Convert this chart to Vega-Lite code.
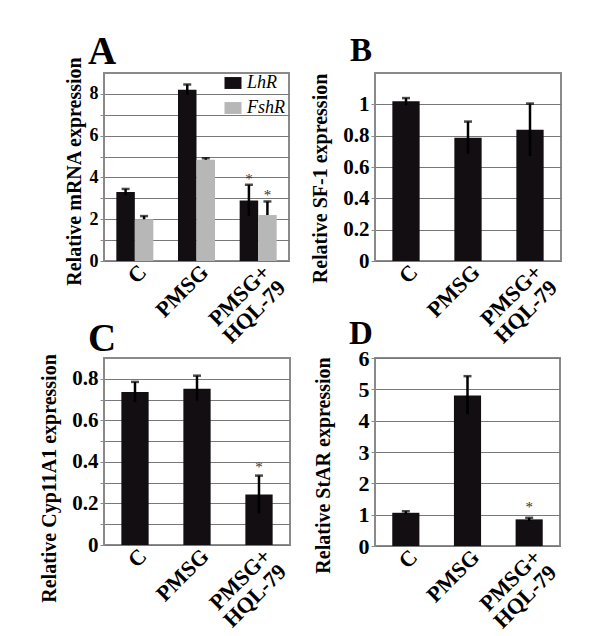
{
  "$schema": "https://vega.github.io/schema/vega-lite/v6.json",
  "background": "white",
  "padding": {"left": 38, "top": 32, "right": 5, "bottom": 5},
  "columns": 2,
  "bounds": "flush",
  "spacing": {"row": 97, "column": 85},
  "resolve": {"legend": {"color": "independent"}},
  "config": {
    "font": "Liberation Serif",
    "view": {"stroke": "#8a8a8a", "strokeWidth": 2},
    "axis": {
      "labelFont": "Liberation Serif", "labelFontWeight": "bold", "labelColor": "black",
      "titleFont": "Liberation Serif", "titleFontWeight": "bold", "titleFontSize": 20, "titleColor": "black",
      "gridColor": "#787878", "gridWidth": 1, "tickColor": "#8a8a8a", "tickSize": 4, "domain": false, "labelOverlap": false
    },
    "axisX": {"labelAngle": -45, "labelFontSize": 22, "ticks": false, "grid": false, "title": null, "labelPadding": 0, "labelOffset": 1, "labelLineHeight": 22},
    "title": {"font": "Liberation Serif", "fontWeight": "bold", "color": "black", "anchor": "start", "frame": "group", "baseline": "alphabetic"}
  },
  "concat": [
    {
      "width": 185, "height": 188,
      "title": {"text": "A", "fontSize": 39, "dx": -16, "offset": -16},
      "data": {"values": [
        {"group": "C", "gene": "LhR", "value": 3.3, "lo": 3.15, "hi": 3.45, "sig": false},
        {"group": "C", "gene": "FshR", "value": 2.0, "lo": 2.0, "hi": 2.15, "sig": false},
        {"group": "PMSG", "gene": "LhR", "value": 8.2, "lo": 7.95, "hi": 8.45, "sig": false},
        {"group": "PMSG", "gene": "FshR", "value": 4.85, "lo": 4.85, "hi": 4.92, "sig": false},
        {"group": "PMSG+|HQL-79", "gene": "LhR", "value": 2.9, "lo": 2.15, "hi": 3.65, "sig": true},
        {"group": "PMSG+|HQL-79", "gene": "FshR", "value": 2.2, "lo": 2.2, "hi": 2.85, "sig": true}
      ]},
      "encoding": {
        "x": {"field": "group", "type": "nominal", "sort": ["C", "PMSG", "PMSG+|HQL-79"],
              "scale": {"paddingInner": 0.4, "paddingOuter": 0.2},
              "axis": {"labelExpr": "split(datum.label, '|')"}},
        "xOffset": {"field": "gene", "type": "nominal", "sort": ["LhR", "FshR"], "scale": {"paddingInner": 0, "paddingOuter": 0}}
      },
      "layer": [
        {"mark": {"type": "bar"},
         "encoding": {
           "y": {"field": "value", "type": "quantitative", "scale": {"domain": [0, 9], "nice": false},
                 "axis": {"values": [0,1,2,3,4,5,6,7,8], "labelFontSize": 18,
                          "labelExpr": "datum.value % 2 == 0 ? datum.label : ''",
                          "title": "Relative mRNA expression", "titlePadding": 5, "titleY": 98}},
           "color": {"field": "gene", "type": "nominal", "scale": {"domain": ["LhR", "FshR"], "range": ["#120e12", "#b7b7b7"]},
                     "legend": {"orient": "none", "legendX": 120, "legendY": 1, "padding": 0, "title": null,
                                "labelFont": "Liberation Serif", "labelFontStyle": "italic", "labelFontSize": 18, "labelColor": "black",
                                "symbolType": "M-1,-0.7H1V0.7H-1Z", "symbolSize": 289, "symbolStrokeWidth": 0, "symbolOpacity": 1,
                                "rowPadding": 7, "labelOffset": 5}}
         }},
        {"mark": {"type": "rule", "strokeWidth": 2.5, "color": "black"},
         "encoding": {"y": {"field": "lo", "type": "quantitative", "scale": {"domain": [0, 9], "nice": false},
                 "axis": {"values": [0,1,2,3,4,5,6,7,8], "labelFontSize": 18,
                          "labelExpr": "datum.value % 2 == 0 ? datum.label : ''",
                          "title": "Relative mRNA expression", "titlePadding": 5, "titleY": 98}}, "y2": {"field": "hi"}}},
        {"mark": {"type": "tick", "thickness": 2.5, "size": 8, "color": "black"},
         "encoding": {"y": {"field": "hi", "type": "quantitative", "scale": {"domain": [0, 9], "nice": false},
                 "axis": {"values": [0,1,2,3,4,5,6,7,8], "labelFontSize": 18,
                          "labelExpr": "datum.value % 2 == 0 ? datum.label : ''",
                          "title": "Relative mRNA expression", "titlePadding": 5, "titleY": 98}}}},
        {"transform": [{"filter": "datum.sig"}],
         "mark": {"type": "text", "text": "*", "dy": -6, "fontSize": 15, "color": "#333"},
         "encoding": {"y": {"field": "hi", "type": "quantitative", "scale": {"domain": [0, 9], "nice": false},
                 "axis": {"values": [0,1,2,3,4,5,6,7,8], "labelFontSize": 18,
                          "labelExpr": "datum.value % 2 == 0 ? datum.label : ''",
                          "title": "Relative mRNA expression", "titlePadding": 5, "titleY": 98}}}}
      ]
    },
    {
      "width": 186, "height": 188,
      "title": {"text": "B", "fontSize": 33, "dx": -25, "offset": 5},
      "data": {"values": [
        {"group": "C", "value": 1.02, "lo": 0.995, "hi": 1.04},
        {"group": "PMSG", "value": 0.787, "lo": 0.685, "hi": 0.89},
        {"group": "PMSG+|HQL-79", "value": 0.838, "lo": 0.67, "hi": 1.005}
      ]},
      "encoding": {
        "x": {"field": "group", "type": "nominal", "sort": ["C", "PMSG", "PMSG+|HQL-79"],
              "scale": {"paddingInner": 0.56, "paddingOuter": 0.28},
              "axis": {"labelExpr": "split(datum.label, '|')"}}
      },
      "layer": [
        {"mark": {"type": "bar", "color": "#120e12"},
         "encoding": {
           "y": {"field": "value", "type": "quantitative", "scale": {"domain": [0, 1.2], "nice": false},
                 "axis": {"values": [0, 0.2, 0.4, 0.6, 0.8, 1], "labelFontSize": 21,
                          "labelExpr": "datum.value == 0 ? '0' : (datum.value == 1 ? '1' : format(datum.value, '.1f'))",
                          "title": "Relative SF-1 expression", "titlePadding": 12, "titleY": 105}}
         }},
        {"mark": {"type": "rule", "strokeWidth": 2.5, "color": "black"},
         "encoding": {"y": {"field": "lo", "type": "quantitative", "scale": {"domain": [0, 1.2], "nice": false},
                 "axis": {"values": [0, 0.2, 0.4, 0.6, 0.8, 1], "labelFontSize": 21,
                          "labelExpr": "datum.value == 0 ? '0' : (datum.value == 1 ? '1' : format(datum.value, '.1f'))",
                          "title": "Relative SF-1 expression", "titlePadding": 12, "titleY": 105}}, "y2": {"field": "hi"}}},
        {"mark": {"type": "tick", "thickness": 2.5, "size": 8, "color": "black"},
         "encoding": {"y": {"field": "hi", "type": "quantitative", "scale": {"domain": [0, 1.2], "nice": false},
                 "axis": {"values": [0, 0.2, 0.4, 0.6, 0.8, 1], "labelFontSize": 21,
                          "labelExpr": "datum.value == 0 ? '0' : (datum.value == 1 ? '1' : format(datum.value, '.1f'))",
                          "title": "Relative SF-1 expression", "titlePadding": 12, "titleY": 105}}}}
      ]
    },
    {
      "width": 186, "height": 187,
      "title": {"text": "C", "fontSize": 39, "dx": -16, "offset": -5},
      "data": {"values": [
        {"group": "C", "value": 0.736, "lo": 0.688, "hi": 0.785, "sig": false},
        {"group": "PMSG", "value": 0.752, "lo": 0.695, "hi": 0.815, "sig": false},
        {"group": "PMSG+|HQL-79", "value": 0.243, "lo": 0.152, "hi": 0.334, "sig": true}
      ]},
      "encoding": {
        "x": {"field": "group", "type": "nominal", "sort": ["C", "PMSG", "PMSG+|HQL-79"],
              "scale": {"paddingInner": 0.56, "paddingOuter": 0.28},
              "axis": {"labelExpr": "split(datum.label, '|')"}}
      },
      "layer": [
        {"mark": {"type": "bar", "color": "#120e12"},
         "encoding": {
           "y": {"field": "value", "type": "quantitative", "scale": {"domain": [0, 0.9], "nice": false},
                 "axis": {"values": [0, 0.1, 0.2, 0.3, 0.4, 0.5, 0.6, 0.7, 0.8], "labelFontSize": 21,
                          "labelExpr": "round(datum.value * 10) % 2 == 0 ? (datum.value == 0 ? '0' : format(datum.value, '.1f')) : ''",
                          "title": "Relative Cyp11A1 expression", "titlePadding": 12, "titleY": 120}}
         }},
        {"mark": {"type": "rule", "strokeWidth": 2.5, "color": "black"},
         "encoding": {"y": {"field": "lo", "type": "quantitative", "scale": {"domain": [0, 0.9], "nice": false},
                 "axis": {"values": [0, 0.1, 0.2, 0.3, 0.4, 0.5, 0.6, 0.7, 0.8], "labelFontSize": 21,
                          "labelExpr": "round(datum.value * 10) % 2 == 0 ? (datum.value == 0 ? '0' : format(datum.value, '.1f')) : ''",
                          "title": "Relative Cyp11A1 expression", "titlePadding": 12, "titleY": 120}}, "y2": {"field": "hi"}}},
        {"mark": {"type": "tick", "thickness": 2.5, "size": 8, "color": "black"},
         "encoding": {"y": {"field": "hi", "type": "quantitative", "scale": {"domain": [0, 0.9], "nice": false},
                 "axis": {"values": [0, 0.1, 0.2, 0.3, 0.4, 0.5, 0.6, 0.7, 0.8], "labelFontSize": 21,
                          "labelExpr": "round(datum.value * 10) % 2 == 0 ? (datum.value == 0 ? '0' : format(datum.value, '.1f')) : ''",
                          "title": "Relative Cyp11A1 expression", "titlePadding": 12, "titleY": 120}}}},
        {"transform": [{"filter": "datum.sig"}],
         "mark": {"type": "text", "text": "*", "dy": -9, "fontSize": 15, "color": "#333"},
         "encoding": {"y": {"field": "hi", "type": "quantitative", "scale": {"domain": [0, 0.9], "nice": false},
                 "axis": {"values": [0, 0.1, 0.2, 0.3, 0.4, 0.5, 0.6, 0.7, 0.8], "labelFontSize": 21,
                          "labelExpr": "round(datum.value * 10) % 2 == 0 ? (datum.value == 0 ? '0' : format(datum.value, '.1f')) : ''",
                          "title": "Relative Cyp11A1 expression", "titlePadding": 12, "titleY": 120}}}}
      ]
    },
    {
      "width": 185, "height": 188,
      "title": {"text": "D", "fontSize": 33, "dx": -26, "offset": -4},
      "data": {"values": [
        {"group": "C", "value": 1.06, "lo": 1.01, "hi": 1.11, "sig": false},
        {"group": "PMSG", "value": 4.8, "lo": 4.2, "hi": 5.42, "sig": false},
        {"group": "PMSG+|HQL-79", "value": 0.85, "lo": 0.8, "hi": 0.9, "sig": true}
      ]},
      "encoding": {
        "x": {"field": "group", "type": "nominal", "sort": ["C", "PMSG", "PMSG+|HQL-79"],
              "scale": {"paddingInner": 0.56, "paddingOuter": 0.28},
              "axis": {"labelExpr": "split(datum.label, '|')"}}
      },
      "layer": [
        {"mark": {"type": "bar", "color": "#120e12"},
         "encoding": {
           "y": {"field": "value", "type": "quantitative", "scale": {"domain": [0, 6], "nice": false},
                 "axis": {"values": [0, 1, 2, 3, 4, 5, 6], "labelFontSize": 22,
                          "title": "Relative StAR expression", "titlePadding": 25, "titleY": 107}}
         }},
        {"mark": {"type": "rule", "strokeWidth": 2.5, "color": "black"},
         "encoding": {"y": {"field": "lo", "type": "quantitative", "scale": {"domain": [0, 6], "nice": false},
                 "axis": {"values": [0, 1, 2, 3, 4, 5, 6], "labelFontSize": 22,
                          "title": "Relative StAR expression", "titlePadding": 25, "titleY": 107}}, "y2": {"field": "hi"}}},
        {"mark": {"type": "tick", "thickness": 2.5, "size": 8, "color": "black"},
         "encoding": {"y": {"field": "hi", "type": "quantitative", "scale": {"domain": [0, 6], "nice": false},
                 "axis": {"values": [0, 1, 2, 3, 4, 5, 6], "labelFontSize": 22,
                          "title": "Relative StAR expression", "titlePadding": 25, "titleY": 107}}}},
        {"transform": [{"filter": "datum.sig"}],
         "mark": {"type": "text", "text": "*", "dy": -11, "fontSize": 15, "color": "#333"},
         "encoding": {"y": {"field": "hi", "type": "quantitative", "scale": {"domain": [0, 6], "nice": false},
                 "axis": {"values": [0, 1, 2, 3, 4, 5, 6], "labelFontSize": 22,
                          "title": "Relative StAR expression", "titlePadding": 25, "titleY": 107}}}}
      ]
    }
  ]
}
